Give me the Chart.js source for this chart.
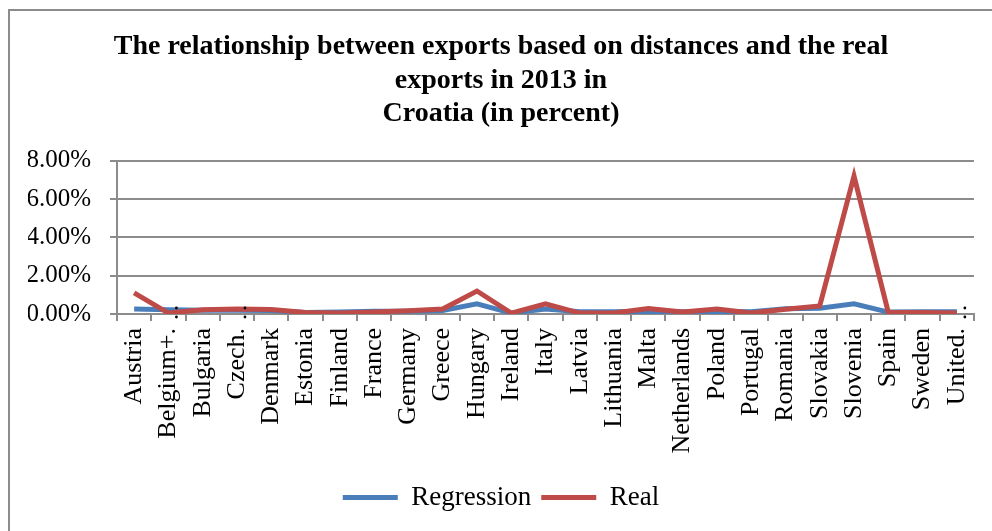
<!DOCTYPE html>
<html>
<head>
<meta charset="utf-8">
<script src="https://cdn.jsdelivr.net/npm/chart.js@4/dist/chart.umd.min.js"></script>
<style>
    body { margin: 0; background: #ffffff; overflow: hidden; }
    #moldura {
        position: absolute;
        left: 8px;
        top: 9px;
        width: 1000px;
        height: 540px;
        border: 2px solid #8c8c8c;
    }
    #grafico { position: absolute; left: 0; top: 0; }
</style>
</head>
<body>
<div id="moldura"></div>
<canvas id="grafico" width="992" height="531"></canvas>
<script>
const paises = [
    "Austria", "Belgium+.", "Bulgaria", "Czech.", "Denmark", "Estonia",
    "Finland", "France", "Germany", "Greece", "Hungary", "Ireland", "Italy",
    "Latvia", "Lithuania", "Malta", "Netherlands", "Poland", "Portugal",
    "Romania", "Slovakia", "Slovenia", "Spain", "Sweden", "United."
];

// valores em percentual
const regressao = [
    0.26, 0.22, 0.20, 0.20, 0.18, 0.08, 0.10, 0.15, 0.15, 0.18, 0.53, 0.05, 0.26,
    0.12, 0.12, 0.15, 0.12, 0.15, 0.12, 0.28, 0.30, 0.53, 0.10, 0.12, 0.12
];

const real = [
    1.10, 0.05, 0.22, 0.26, 0.24, 0.08, 0.05, 0.10, 0.17, 0.26, 1.20, 0.05, 0.53,
    0.05, 0.05, 0.29, 0.10, 0.26, 0.05, 0.25, 0.42, 7.20, 0.08, 0.08, 0.05
];

const ticksY = [0, 2, 4, 6, 8];

const titulo = [
    "The relationship between exports based on distances and the real",
    "exports in 2013 in",
    "Croatia (in percent)"
];

const fonte = "'Liberation Serif', 'Times New Roman', serif";
const corGrade = "#8c8c8c";

// reticencias dos rotulos cortados (Excel deixa os pontos passarem do eixo)
const pontosCortados = {
    id: "pontosCortados",
    afterDraw(chart) {
        const eixo = chart.scales.x;
        const ctx = chart.ctx;
        ctx.save();
        ctx.fillStyle = "#000";
        paises.forEach((nome, i) => {
            if (!nome.endsWith(".")) return;
            const x = eixo.getPixelForValue(i) + 8;
            [-6, 3].forEach(d => {
                ctx.beginPath();
                ctx.arc(x, eixo.top + d, 1.4, 0, Math.PI * 2);
                ctx.fill();
            });
        });
        ctx.restore();
    }
};

document.addEventListener("DOMContentLoaded", () => {
    const ctx = document.getElementById("grafico").getContext("2d");

    new Chart(ctx, {
        type: "line",
        data: {
            labels: paises,
            datasets: [
                {
                    label: "Regression",
                    data: regressao,
                    borderColor: "#4a7ebb",
                    backgroundColor: "#4a7ebb",
                    borderWidth: 5,
                    pointRadius: 0,
                    tension: 0,
                    order: 1
                },
                {
                    label: "Real",
                    data: real,
                    borderColor: "#be4b48",
                    backgroundColor: "#be4b48",
                    borderWidth: 5,
                    pointRadius: 0,
                    tension: 0,
                    order: 0
                }
            ]
        },
        plugins: [pontosCortados],
        options: {
            responsive: false,
            animation: false,
            layout: {
                padding: { left: 28, right: 18, top: 20, bottom: 10 }
            },
            plugins: {
                title: {
                    display: true,
                    text: titulo,
                    color: "#000",
                    font: { family: fonte, size: 28, weight: "bold", lineHeight: 1.2 },
                    padding: { top: 10, bottom: 30 }
                },
                legend: {
                    position: "bottom",
                    labels: {
                        color: "#000",
                        font: { family: fonte, size: 27 },
                        boxWidth: 55,
                        boxHeight: 5,
                        padding: 10,
                        generateLabels(chart) {
                            return chart.data.datasets.map((ds, i) => ({
                                text: ds.label,
                                fillStyle: ds.borderColor,
                                strokeStyle: ds.borderColor,
                                lineWidth: 0,
                                fontColor: "#000",
                                datasetIndex: i
                            }));
                        }
                    }
                },
                tooltip: { enabled: false }
            },
            scales: {
                x: {
                    offset: true,
                    afterFit(scale) {
                        scale.height = 160;
                        scale.paddingLeft = 0;
                        scale.paddingRight = 0;
                    },
                    grid: {
                        offset: true,
                        drawOnChartArea: false,
                        color: corGrade,
                        lineWidth: 2,
                        tickLength: 7
                    },
                    border: { color: corGrade, width: 2 },
                    ticks: {
                        autoSkip: false,
                        minRotation: 90,
                        maxRotation: 90,
                        padding: 7,
                        color: "#000",
                        font: { family: fonte, size: 26 }
                    }
                },
                y: {
                    min: 0,
                    max: 8,
                    afterFit(scale) {
                        scale.width = 89;
                    },
                    afterBuildTicks(scale) {
                        scale.ticks = ticksY.map(v => ({ value: v }));
                    },
                    grid: {
                        color: corGrade,
                        lineWidth: 2,
                        tickLength: 7
                    },
                    border: { color: corGrade, width: 2 },
                    ticks: {
                        padding: 19,
                        color: "#000",
                        font: { family: fonte, size: 25 },
                        callback: function (value) {
                            return value.toFixed(2) + "%";
                        }
                    }
                }
            }
        }
    });
});
</script>
</body>
</html>
